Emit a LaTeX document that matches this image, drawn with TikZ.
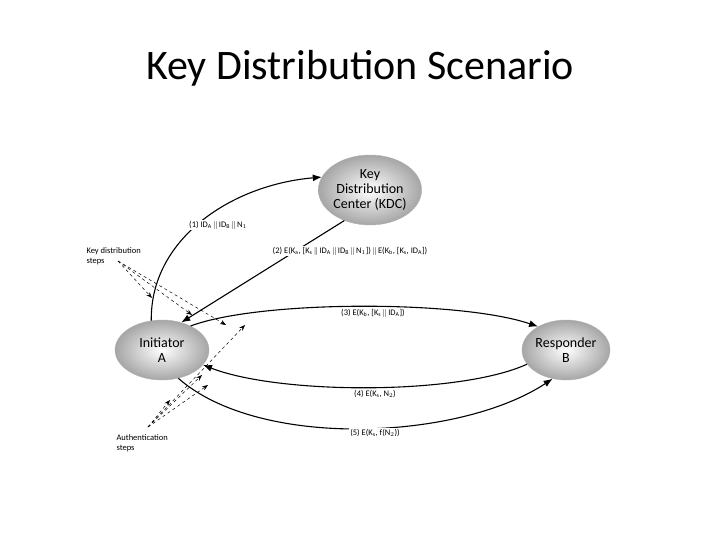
\documentclass[tikz,border=0pt]{standalone}
\usepackage{fontspec}
\setmainfont{Carlito}
\usetikzlibrary{arrows.meta,shapes.geometric}
\begin{document}
\begin{tikzpicture}[x=1pt,y=-1pt,
  party/.style={ellipse,draw=gray!60,inner color=white,outer color=gray!70,font=\fontsize{14}{15}\selectfont,align=center,minimum height=#1,inner sep=0pt},
  party/.default=60,
  msg/.style={-{Latex[length=9,width=7]},line width=1.1pt},
  lab/.style={font=\fontsize{8.5}{9}\selectfont,fill=white,inner sep=1pt},
  pt/.style={-{Stealth[length=6]},dashed,line width=0.5pt},
  note/.style={font=\fontsize{8.5}{9.5}\selectfont,align=left,anchor=west}]
\useasboundingbox (0,0) rectangle (720,540);
\node (title) at (360,68) {\fontsize{42}{46}\selectfont Key Distribution Scenario};
\node[party=70,minimum width=94] (kdc) at (370,190) {Key\\Distribution\\Center (KDC)};
\node[party=60,minimum width=94] (a) at (162,350) {Initiator\\A};
\node[party=60,minimum width=88] (b) at (566,350) {Responder\\B};
\draw[msg] (a.110) .. controls (150,240) and (230,185) .. (kdc.165);
\draw[msg] (kdc.230) -- (a.55);
\draw[msg] (a.40) .. controls (260,300) and (460,300) .. (b.140);
\draw[msg] (b.200) .. controls (460,395) and (280,395) .. (a.340);
\draw[msg] (a.300) .. controls (260,450) and (460,440) .. (b.245);
\node[lab] (l1) at (218,225) {(1) ID$_\mathrm{A}$\,$\|$\,ID$_\mathrm{B}$\,$\|$\,N$_1$};
\node[lab] (l2) at (350,251) {(2) E(K$_\mathrm{a}$, [K$_\mathrm{s}$\,$\|$\,ID$_\mathrm{A}$\,$\|$\,ID$_\mathrm{B}$\,$\|$\,N$_1$])\,$\|$\,E(K$_\mathrm{b}$, [K$_\mathrm{s}$, ID$_\mathrm{A}$])};
\node[lab] (l3) at (373,313) {(3) E(K$_\mathrm{b}$, [K$_\mathrm{s}$\,$\|$\,ID$_\mathrm{A}$])};
\node[lab] (l4) at (375,394) {(4) E(K$_\mathrm{s}$, N$_2$)};
\node[lab] (l5) at (375,433) {(5) E(K$_\mathrm{s}$, f(N$_2$))};
\node[note] (kd) at (83,256) {Key distribution\\steps};
\node[note] (au) at (113,443) {Authentication\\steps};
\coordinate (kdo) at (118,261);
\coordinate (auo) at (148,427);
\coordinate (t1) at (152,298);
\coordinate (t2) at (192,315);
\coordinate (t3) at (226,325);
\coordinate (u1) at (170,400);
\coordinate (u2) at (208,385);
\coordinate (u3) at (202,375);
\coordinate (u4) at (245,325);
\foreach \t in {t1,t2,t3} \draw[pt] (kdo) -- (\t);
\foreach \t in {u1,u2,u3,u4} \draw[pt] (auo) -- (\t);
\end{tikzpicture}
\end{document}
